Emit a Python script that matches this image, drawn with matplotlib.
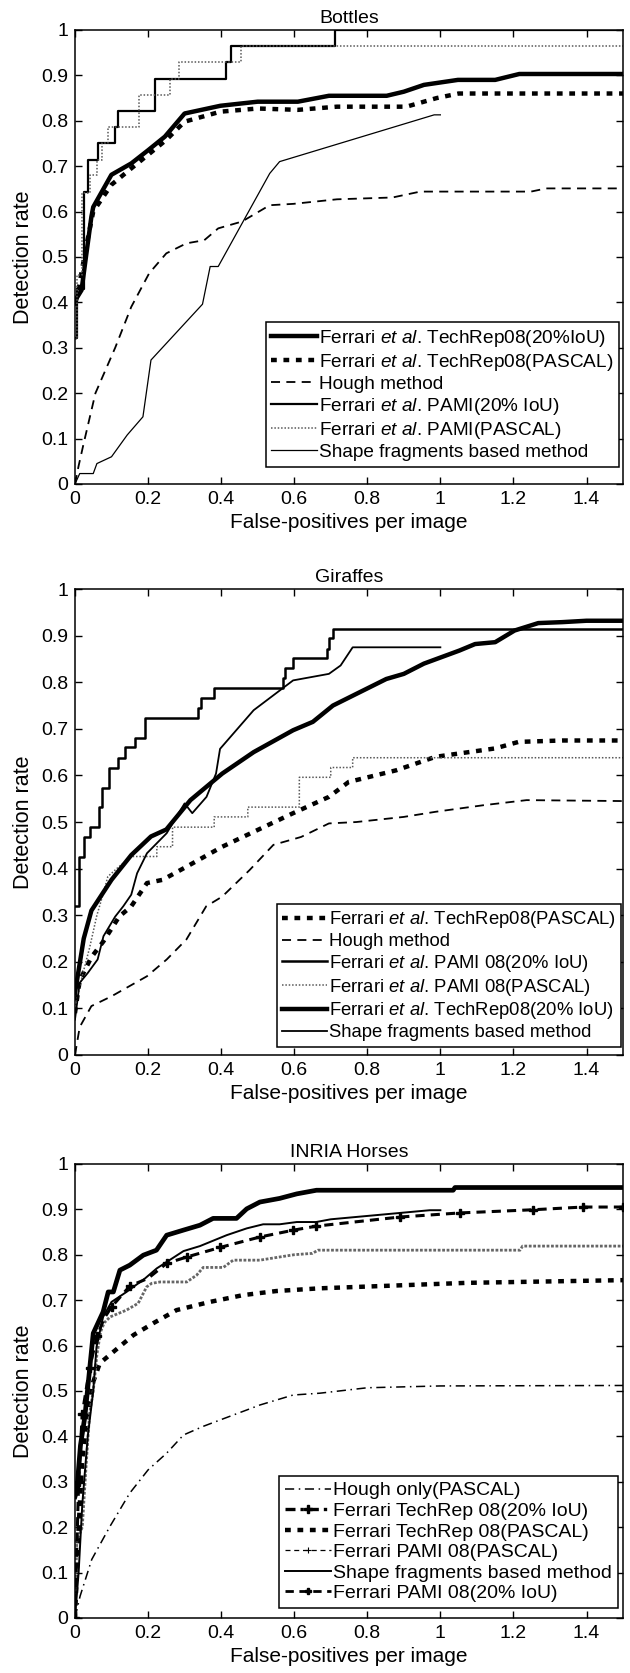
import matplotlib
matplotlib.use("Agg")
import matplotlib.pyplot as plt
from matplotlib.lines import Line2D

plt.rcParams["font.family"] = ["Liberation Sans", "DejaVu Sans"]
plt.rcParams["mathtext.fontset"] = "custom"
plt.rcParams["mathtext.rm"] = "Liberation Sans"
plt.rcParams["mathtext.it"] = "Liberation Sans:italic"

# ---- Bottles ----
bot_tr20_x = [0, 0.005, 0.018, 0.03, 0.045, 0.05, 0.0997, 0.154, 0.2, 0.246, 0.30, 0.398, 0.50, 0.61, 0.695, 0.853, 0.90, 0.955, 1.048, 1.15, 1.216, 1.5]
bot_tr20_y = [0.398, 0.41, 0.427, 0.50, 0.589, 0.61, 0.681, 0.706, 0.735, 0.765, 0.816, 0.833, 0.842, 0.842, 0.855, 0.855, 0.864, 0.879, 0.89, 0.89, 0.903, 0.903]
bot_trpas_x = [0, 0.01, 0.03, 0.05, 0.0997, 0.154, 0.2, 0.25, 0.30, 0.398, 0.50, 0.61, 0.717, 0.907, 0.99, 1.05, 1.5]
bot_trpas_y = [0.40, 0.43, 0.52, 0.60, 0.659, 0.695, 0.725, 0.758, 0.798, 0.82, 0.827, 0.824, 0.831, 0.831, 0.85, 0.86, 0.86]
bot_hough_x = [0, 0.01, 0.024, 0.056, 0.11, 0.154, 0.203, 0.25, 0.305, 0.354, 0.392, 0.457, 0.533, 0.598, 0.717, 0.869, 0.945, 1.248, 1.29, 1.5]
bot_hough_y = [0, 0.04, 0.09, 0.20, 0.30, 0.39, 0.464, 0.508, 0.53, 0.537, 0.563, 0.578, 0.614, 0.617, 0.627, 0.631, 0.644, 0.644, 0.651, 0.651]
bot_pami20_x = [0, 0.005, 0.024, 0.037, 0.062, 0.11, 0.119, 0.219, 0.414, 0.428, 0.712, 1.5]
bot_pami20_y = [0.321, 0.429, 0.643, 0.714, 0.75, 0.786, 0.821, 0.893, 0.929, 0.964, 1.0, 1.0]
bot_pamipas_x = [0, 0.005, 0.02, 0.04, 0.06, 0.073, 0.09, 0.175, 0.26, 0.285, 0.455, 1.5]
bot_pamipas_y = [0.32, 0.46, 0.64, 0.68, 0.714, 0.75, 0.786, 0.857, 0.893, 0.929, 0.964, 0.964]
bot_shape_x = [0, 0.013, 0.05, 0.06, 0.1, 0.143, 0.186, 0.208, 0.349, 0.37, 0.392, 0.533, 0.56, 0.983, 1.0]
bot_shape_y = [0, 0.023, 0.023, 0.045, 0.06, 0.108, 0.148, 0.273, 0.396, 0.479, 0.479, 0.684, 0.71, 0.813, 0.813]

# ---- Giraffes ----
gir_trpas_x = [0, 0.013, 0.045, 0.078, 0.121, 0.154, 0.197, 0.24, 0.305, 0.403, 0.5, 0.597, 0.695, 0.749, 0.879, 0.987, 1.15, 1.214, 1.333, 1.5]
gir_trpas_y = [0.09, 0.16, 0.21, 0.244, 0.297, 0.319, 0.369, 0.376, 0.404, 0.447, 0.483, 0.519, 0.554, 0.586, 0.611, 0.64, 0.658, 0.672, 0.675, 0.675]
gir_hough_x = [0, 0.013, 0.045, 0.1, 0.197, 0.251, 0.305, 0.359, 0.403, 0.478, 0.543, 0.619, 0.695, 0.77, 0.90, 0.987, 1.117, 1.236, 1.5]
gir_hough_y = [0.0, 0.06, 0.105, 0.126, 0.169, 0.205, 0.248, 0.319, 0.34, 0.397, 0.451, 0.468, 0.497, 0.50, 0.511, 0.522, 0.536, 0.547, 0.545]
gir_pami20_x = [0, 0.01, 0.024, 0.04, 0.067, 0.073, 0.094, 0.119, 0.137, 0.165, 0.192, 0.338, 0.346, 0.381, 0.57, 0.576, 0.597, 0.689, 0.695, 0.706, 1.5]
gir_pami20_y = [0.319, 0.426, 0.468, 0.489, 0.532, 0.574, 0.617, 0.638, 0.66, 0.681, 0.723, 0.745, 0.766, 0.787, 0.809, 0.83, 0.851, 0.872, 0.894, 0.915, 0.915]
gir_pamipas_x = [0, 0.02, 0.04, 0.06, 0.075, 0.09, 0.12, 0.155, 0.224, 0.224, 0.267, 0.267, 0.381, 0.381, 0.473, 0.473, 0.614, 0.614, 0.70, 0.70, 0.76, 0.76, 1.5]
gir_pamipas_y = [0.1, 0.17, 0.23, 0.30, 0.34, 0.383, 0.404, 0.426, 0.426, 0.447, 0.447, 0.489, 0.489, 0.511, 0.511, 0.532, 0.532, 0.596, 0.596, 0.617, 0.617, 0.638, 0.638]
gir_tr20_x = [0, 0.024, 0.045, 0.1, 0.154, 0.208, 0.25, 0.316, 0.348, 0.403, 0.489, 0.597, 0.651, 0.706, 0.77, 0.852, 0.90, 0.955, 1.052, 1.095, 1.15, 1.203, 1.268, 1.333, 1.4, 1.5]
gir_tr20_y = [0.133, 0.25, 0.31, 0.376, 0.429, 0.469, 0.484, 0.547, 0.568, 0.604, 0.65, 0.697, 0.715, 0.75, 0.775, 0.807, 0.818, 0.84, 0.868, 0.882, 0.886, 0.911, 0.927, 0.929, 0.932, 0.932]
gir_shape_x = [0, 0.013, 0.035, 0.062, 0.078, 0.11, 0.132, 0.154, 0.17, 0.197, 0.251, 0.30, 0.321, 0.36, 0.386, 0.397, 0.489, 0.597, 0.695, 0.727, 0.76, 1.0]
gir_shape_y = [0.076, 0.155, 0.176, 0.205, 0.255, 0.297, 0.319, 0.344, 0.39, 0.433, 0.476, 0.54, 0.519, 0.554, 0.604, 0.657, 0.74, 0.804, 0.818, 0.836, 0.875, 0.875]

# ---- INRIA Horses ----
hor_hough_x = [0, 0.014, 0.046, 0.096, 0.15, 0.2, 0.251, 0.297, 0.351, 0.397, 0.47, 0.506, 0.597, 0.67, 0.8, 1.0, 1.5]
hor_hough_y = [0, 0.048, 0.129, 0.202, 0.275, 0.326, 0.363, 0.403, 0.422, 0.436, 0.458, 0.469, 0.491, 0.495, 0.507, 0.511, 0.512]
hor_tr20_x = [0, 0.005, 0.015, 0.027, 0.05, 0.077, 0.091, 0.105, 0.123, 0.15, 0.187, 0.223, 0.251, 0.296, 0.342, 0.378, 0.442, 0.47, 0.506, 0.56, 0.607, 0.661, 1.035, 1.04, 1.5]
hor_tr20_y = [0.267, 0.28, 0.38, 0.443, 0.627, 0.674, 0.718, 0.718, 0.766, 0.777, 0.799, 0.81, 0.843, 0.854, 0.865, 0.88, 0.88, 0.901, 0.916, 0.924, 0.934, 0.942, 0.942, 0.948, 0.948]
hor_trpas_x = [0, 0.01, 0.02, 0.035, 0.05, 0.068, 0.105, 0.16, 0.214, 0.278, 0.369, 0.46, 0.551, 0.67, 1.071, 1.5]
hor_trpas_y = [0, 0.2, 0.35, 0.45, 0.52, 0.561, 0.586, 0.623, 0.649, 0.678, 0.696, 0.711, 0.72, 0.726, 0.738, 0.744]
hor_pamipas_x = [0, 0.005, 0.02, 0.03, 0.04, 0.05, 0.06, 0.07, 0.08, 0.096, 0.141, 0.173, 0.196, 0.21, 0.233, 0.306, 0.333, 0.351, 0.406, 0.433, 0.506, 0.56, 0.6, 0.65, 0.665, 1.218, 1.225, 1.5]
hor_pamipas_y = [0, 0.17, 0.2, 0.33, 0.45, 0.5, 0.58, 0.63, 0.65, 0.663, 0.678, 0.693, 0.729, 0.737, 0.74, 0.74, 0.755, 0.772, 0.772, 0.788, 0.788, 0.795, 0.80, 0.803, 0.81, 0.81, 0.819, 0.819]
hor_shape_x = [0, 0.01, 0.02, 0.035, 0.05, 0.059, 0.077, 0.1, 0.141, 0.192, 0.224, 0.297, 0.342, 0.415, 0.47, 0.515, 0.56, 0.607, 0.66, 0.70, 0.971, 1.0]
hor_shape_y = [0, 0.1, 0.25, 0.4, 0.5, 0.597, 0.663, 0.696, 0.718, 0.748, 0.77, 0.808, 0.819, 0.843, 0.858, 0.867, 0.867, 0.872, 0.872, 0.878, 0.898, 0.898]
hor_pami20_x = [0, 0.01, 0.02, 0.04, 0.06, 0.08, 0.1, 0.15, 0.2, 0.251, 0.306, 0.397, 0.506, 0.597, 0.661, 0.889, 1.053, 1.253, 1.39, 1.5]
hor_pami20_y = [0.0, 0.3, 0.45, 0.55, 0.62, 0.66, 0.685, 0.731, 0.748, 0.781, 0.795, 0.816, 0.839, 0.854, 0.863, 0.883, 0.892, 0.899, 0.905, 0.905]

x_ticks = [0, 0.2, 0.4, 0.6, 0.8, 1.0, 1.2, 1.4]
x_labels = ["0", "0.2", "0.4", "0.6", "0.8", "1", "1.2", "1.4"]
y_ticks = [0, 0.1, 0.2, 0.3, 0.4, 0.5, 0.6, 0.7, 0.8, 0.9, 1.0]
y_labels = ["0", "0.1", "0.2", "0.3", "0.4", "0.5", "0.6", "0.7", "0.8", "0.9", "1"]

ETAL = r"$\mathit{et\ al}$."
FS = 14
SQ = (0, (1.3, 1.5))  # thick square dashes


def style_axes(ax, title):
    ax.set_xlim(0, 1.5)
    ax.set_ylim(0, 1)
    ax.set_xticks(x_ticks)
    ax.set_xticklabels(x_labels)
    ax.set_yticks(y_ticks)
    ax.set_yticklabels(y_labels)
    ax.tick_params(direction="in", top=True, right=True, length=5, width=1,
                   labelsize=FS, pad=5)
    for s in ax.spines.values():
        s.set_linewidth(1.1)
    ax.set_title(title, fontsize=FS, pad=5)
    ax.set_ylabel("Detection rate", fontsize=15.5, labelpad=5)
    ax.set_xlabel("False-positives per image", fontsize=15, labelpad=4)


def add_legend(ax, anchor, fs, handles=None):
    kw = dict(loc="lower right", bbox_to_anchor=anchor, borderaxespad=0,
              fontsize=fs, fancybox=False, framealpha=1, edgecolor="black",
              handlelength=2.4, handletextpad=0.1, labelspacing=0.15,
              borderpad=0.3)
    if handles is not None:
        leg = ax.legend(handles=handles, **kw)
    else:
        leg = ax.legend(**kw)
    leg.get_frame().set_linewidth(1.1)
    return leg


fig = plt.figure(figsize=(6.3, 16.73), dpi=100)
ax1 = fig.add_axes([0.119, 0.7107, 0.870, 0.2714])
ax2 = fig.add_axes([0.119, 0.3694, 0.870, 0.2785])
ax3 = fig.add_axes([0.119, 0.0329, 0.870, 0.2714])

# Bottles
ax1.plot(bot_tr20_x, bot_tr20_y, "k-", lw=3.2, label="Ferrari " + ETAL + " TechRep08(20%IoU)")
ax1.plot(bot_trpas_x, bot_trpas_y, color="k", lw=3.2, ls=SQ,
         label="Ferrari " + ETAL + " TechRep08(PASCAL)")
ax1.plot(bot_hough_x, bot_hough_y, color="k", lw=1.3, ls=(0, (5, 3.5)), label="Hough method")
ax1.plot(bot_pami20_x, bot_pami20_y, "k-", lw=1.6, drawstyle="steps-post",
         label="Ferrari " + ETAL + " PAMI(20% IoU)")
ax1.plot(bot_pamipas_x, bot_pamipas_y, color="0.35", lw=1.1, ls=(0, (1, 1.2)),
         drawstyle="steps-post", label="Ferrari " + ETAL + " PAMI(PASCAL)")
ax1.plot(bot_shape_x, bot_shape_y, "k-", lw=0.9, label="Shape fragments based method")
style_axes(ax1, "Bottles")
add_legend(ax1, (0.993, 0.038), 13.7)

# Giraffes
ax2.plot(gir_trpas_x, gir_trpas_y, color="k", lw=3.2, ls=SQ,
         label="Ferrari " + ETAL + " TechRep08(PASCAL)")
ax2.plot(gir_hough_x, gir_hough_y, color="k", lw=1.3, ls=(0, (5, 3.5)), label="Hough method")
ax2.plot(gir_pami20_x, gir_pami20_y, "k-", lw=1.8, drawstyle="steps-post",
         label="Ferrari " + ETAL + " PAMI 08(20% IoU)")
ax2.plot(gir_pamipas_x, gir_pamipas_y, color="0.35", lw=1.1, ls=(0, (1, 1.2)),
         label="Ferrari " + ETAL + " PAMI 08(PASCAL)")
ax2.plot(gir_tr20_x, gir_tr20_y, "k-", lw=3.2, label="Ferrari " + ETAL + " TechRep08(20% IoU)")
ax2.plot(gir_shape_x, gir_shape_y, "k-", lw=1.3, label="Shape fragments based method")
style_axes(ax2, "Giraffes")
add_legend(ax2, (0.996, 0.018), 13.3)

# INRIA Horses
ax3.plot(hor_hough_x, hor_hough_y, color="k", lw=1.1, ls=(0, (6, 3, 1, 3)))
ax3.plot(hor_tr20_x, hor_tr20_y, color="k", lw=3.4, ls="-")
ax3.plot(hor_trpas_x, hor_trpas_y, color="k", lw=3.2, ls=SQ)
ax3.plot(hor_pamipas_x, hor_pamipas_y, color="0.4", lw=2.0, ls=(0, (1, 0.6)))
ax3.plot(hor_shape_x, hor_shape_y, "k-", lw=1.4)
ax3.plot(hor_pami20_x, hor_pami20_y, color="k", lw=2.2, ls=(0, (3, 2)),
         marker="P", ms=6, markevery=0.045)
style_axes(ax3, "INRIA Horses")
hor_handles = [
    Line2D([], [], color="k", lw=1.1, ls=(0, (6, 3, 1, 3)), label="Hough only(PASCAL)"),
    Line2D([], [], color="k", lw=2.4, ls=(0, (3, 1.5, 1, 1.5)), marker="P", ms=6,
           label="Ferrari TechRep 08(20% IoU)"),
    Line2D([], [], color="k", lw=3.2, ls=SQ, label="Ferrari TechRep 08(PASCAL)"),
    Line2D([], [], color="k", lw=0.9, ls=(0, (4, 3)), marker="+", ms=5, mew=0.8,
           label="Ferrari PAMI 08(PASCAL)"),
    Line2D([], [], color="k", lw=1.4, ls="-", label="Shape fragments based method"),
    Line2D([], [], color="k", lw=2.0, ls=(0, (3, 2)), marker="P", ms=5,
           label="Ferrari PAMI 08(20% IoU)"),
]
add_legend(ax3, (0.991, 0.022), 14.0, handles=hor_handles)

fig.savefig("out.png", dpi=100)
